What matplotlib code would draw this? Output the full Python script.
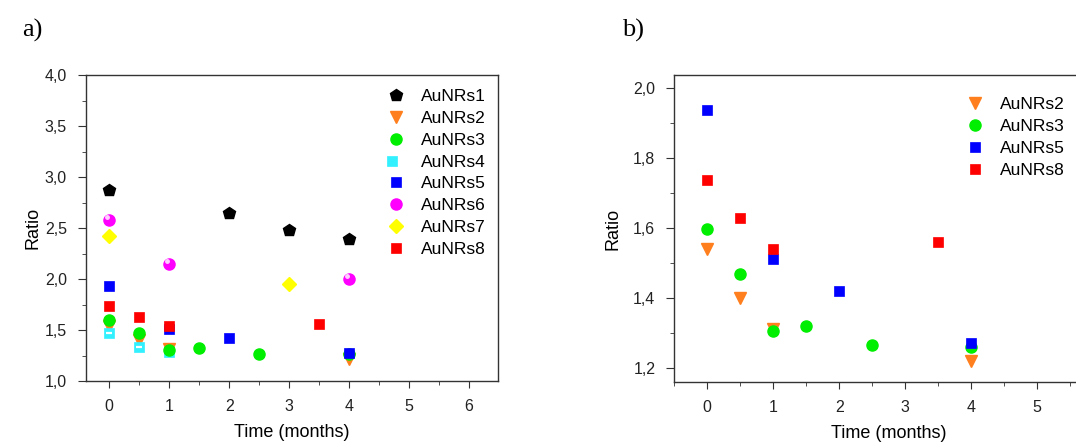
#!/usr/bin/env python3
import matplotlib
matplotlib.use('Agg')
import matplotlib.pyplot as plt
from matplotlib.ticker import MultipleLocator, FuncFormatter
from matplotlib.legend_handler import HandlerTuple

# data: (time in months, ratio)
t1 = [0, 2, 3, 4]
r1 = [2.87, 2.65, 2.48, 2.39]
t2 = [0, 0.5, 1, 4]
r2 = [1.54, 1.40, 1.31, 1.22]
t3 = [0, 0.5, 1, 1.5, 2.5, 4]
r3 = [1.597, 1.468, 1.305, 1.32, 1.265, 1.26]
t4 = [0, 0.5, 1]
r4 = [1.47, 1.33, 1.28]
t5 = [0, 1, 2, 4]
r5 = [1.935, 1.51, 1.42, 1.27]
t6 = [0, 1, 4]
r6 = [2.58, 2.15, 2.0]
t7 = [0, 3]
r7 = [2.42, 1.95]
t8 = [0, 0.5, 1, 3.5]
r8 = [1.737, 1.628, 1.54, 1.56]

ORANGE = '#ff7f1e'
GREEN = '#00ee00'
CYAN = '#33f0ff'
BLUE = '#0000ff'
MAGENTA = '#ff00ff'
YELLOW = '#ffff00'
RED = '#ff0000'

plt.rcParams.update({
    'font.family': ['Liberation Sans', 'DejaVu Sans'],
    'font.size': 11.5,
    'axes.linewidth': 1.0,
    'axes.edgecolor': '#333333',
    'xtick.direction': 'out',
    'ytick.direction': 'out',
    'xtick.major.size': 5,
    'ytick.major.size': 5.5,
    'xtick.minor.size': 3,
    'ytick.minor.size': 3,
    'xtick.major.pad': 8,
    'ytick.major.pad': 8,
    'xtick.color': '#333333',
    'ytick.color': '#333333',
    'xtick.labelcolor': '#222222',
    'ytick.labelcolor': '#222222',
})

fig = plt.figure(figsize=(10.76, 4.42), dpi=100)
comma = FuncFormatter(lambda v, p: ('%.1f' % v).replace('.', ','))


def sq(ax, t, r, c, ms=7):
    return ax.plot(t, r, 's', ms=ms, mfc=c, mec=c, mew=0.5, ls='none')[0]


def style(ax, ypad):
    ax.xaxis.set_major_locator(MultipleLocator(1))
    ax.xaxis.set_minor_locator(MultipleLocator(0.5))
    ax.yaxis.set_major_formatter(comma)
    ax.set_xlabel('Time (months)', fontsize=13, labelpad=7)
    ax.set_ylabel('Ratio', fontsize=13, labelpad=ypad)


# ---- panel a ----
ax = fig.add_axes([0.0797, 0.138, 0.383, 0.692])
h1 = ax.plot(t1, r1, 'p', ms=9, color='black', ls='none')[0]
h2 = ax.plot(t2, r2, 'v', ms=8, color=ORANGE, ls='none')[0]
h4a = sq(ax, t4, r4, CYAN)
h4b = ax.plot(t4, r4, '_', ms=5, mew=1.6, color='white', ls='none')[0]
h3 = ax.plot(t3, r3, 'o', ms=8, color=GREEN, ls='none')[0]
h5 = sq(ax, t5, r5, BLUE)
h6a = ax.plot(t6, r6, 'o', ms=8, color=MAGENTA, ls='none')[0]
h6b = ax.plot([t - 0.03 for t in t6], [r + 0.03 for r in r6], 'o', ms=2.5,
              color='#ffd0ff', ls='none')[0]
h7 = ax.plot(t7, r7, 'D', ms=7, color=YELLOW, ls='none')[0]
h8 = sq(ax, t8, r8, RED)
ax.set_xlim(-0.39, 6.48)
ax.set_ylim(1.0, 4.0)
ax.yaxis.set_major_locator(MultipleLocator(0.5))
ax.yaxis.set_minor_locator(MultipleLocator(0.25))
style(ax, 2)
ax.legend([h1, h2, h3, (h4a, h4b), h5, h6a, h7, h8],
          ['AuNRs1', 'AuNRs2', 'AuNRs3', 'AuNRs4', 'AuNRs5', 'AuNRs6',
           'AuNRs7', 'AuNRs8'],
          handler_map={tuple: HandlerTuple(ndivide=None, pad=0)},
          frameon=False, loc='upper left', bbox_to_anchor=(0.695, 1.005),
          fontsize=12.5, handlelength=1.0, handletextpad=0.9,
          labelspacing=0.38)
fig.text(0.021, 0.93, 'a)', fontsize=19, family='Liberation Serif',
         va='center')

# ---- panel b ----
bx = fig.add_axes([0.6264, 0.1357, 0.399, 0.6946])
g2 = bx.plot(t2, r2, 'v', ms=8, color=ORANGE, ls='none')[0]
g3 = bx.plot(t3, r3, 'o', ms=8, color=GREEN, ls='none')[0]
g5 = sq(bx, t5, r5, BLUE)
g8 = sq(bx, t8, r8, RED)
bx.set_xlim(-0.5, 6.0)
bx.set_ylim(1.159, 2.036)
bx.yaxis.set_major_locator(MultipleLocator(0.2))
bx.yaxis.set_minor_locator(MultipleLocator(0.1))
style(bx, 8)
bx.xaxis.set_major_formatter(FuncFormatter(lambda v, p: '%d' % v if v <= 5 else ''))
bx.legend([g2, g3, g5, g8], ['AuNRs2', 'AuNRs3', 'AuNRs5', 'AuNRs8'],
          frameon=False, loc='upper left', bbox_to_anchor=(0.645, 0.98),
          fontsize=12.5, handlelength=1.0, handletextpad=0.9,
          labelspacing=0.4)
fig.text(0.578, 0.93, 'b)', fontsize=19, family='Liberation Serif',
         va='center')

fig.savefig('out.png', dpi=100)
